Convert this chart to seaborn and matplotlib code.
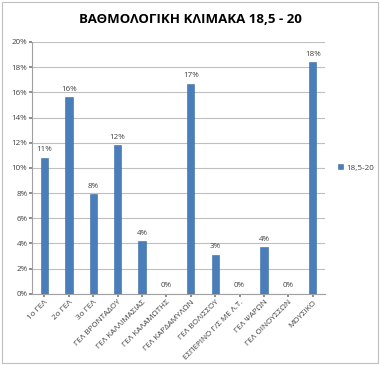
import matplotlib
matplotlib.use("Agg")
import matplotlib.pyplot as plt
import seaborn as sns
import pandas as pd
from matplotlib.patches import Rectangle

schools = ["1ο ΓΕΛ", "2ο ΓΕΛ", "3ο ΓΕΛ", "ΓΕΛ ΒΡΟΝΤΑΔΟΥ", "ΓΕΛ ΚΑΛΛΙΜΑΣΙΑΣ",
           "ΓΕΛ ΚΑΛΑΜΩΤΗΣ", "ΓΕΛ ΚΑΡΔΑΜΥΛΩΝ", "ΓΕΛ ΒΟΛΙΣΣΟΥ", "ΕΣΠΕΡΙΝΟ Γ/Σ ΜΕ Λ.Τ.",
           "ΓΕΛ ΨΑΡΩΝ", "ΓΕΛ ΟΙΝΟΥΣΣΩΝ", "ΜΟΥΣΙΚΟ"]
values = [10.8, 15.6, 7.9, 11.8, 4.2, 0.0, 16.7, 3.1, 0.0, 3.7, 0.0, 18.4]
series_name = "18,5-20"
yticks = [0, 2, 4, 6, 8, 10, 12, 14, 16, 18, 20]

sns.set_theme(style="white")
plt.rcParams["font.family"] = ["Open Sans", "DejaVu Sans"]

df = pd.DataFrame({"school": schools, "value": values, "series": series_name})

fig = plt.figure(figsize=(3.8, 3.65), dpi=100)
ax = fig.add_axes([0.085, 0.195, 0.77, 0.69])

sns.barplot(data=df, x="school", y="value", hue="series", palette=["#4A7EBB"],
            saturation=1, width=0.3, edgecolor="#3A6AA3", linewidth=0.4,
            ax=ax, zorder=3)

ax.set_ylim(0, 20)
ax.set_yticks(yticks)
ax.set_yticklabels([f"{t}%" for t in yticks], fontsize=5.8, color="#404040")
ax.yaxis.grid(True, color="#BFBFBF", linewidth=0.8, zorder=0)
ax.set_xlabel("")
ax.set_ylabel("")
ax.set_xticks(range(len(schools)))
ax.set_xticklabels(schools, rotation=45, ha="right", rotation_mode="anchor",
                   fontsize=5.8, color="#404040")
ax.tick_params(axis="both", length=2, pad=1.5, colors="#808080", labelcolor="#404040")
ax.tick_params(axis="x", bottom=True)
ax.tick_params(axis="y", left=True)
for s in ["top", "right"]:
    ax.spines[s].set_visible(False)
for s in ["left", "bottom"]:
    ax.spines[s].set_color("#A0A0A0")
    ax.spines[s].set_linewidth(0.8)

for i, v in enumerate(values):
    ax.text(i, v + 0.35, f"{round(v):d}%", ha="center", va="bottom",
            fontsize=5.8, color="#404040")

leg = ax.legend(loc="center left", bbox_to_anchor=(1.02, 0.5), frameon=False,
                fontsize=5.8, handlelength=0.6, handleheight=0.6, handletextpad=0.4)
for t in leg.get_texts():
    t.set_color("#404040")

fig.suptitle("ΒΑΘΜΟΛΟΓΙΚΗ ΚΛΙΜΑΚΑ 18,5 - 20", x=0.5, y=0.965, fontsize=9.5,
             fontweight="bold", color="#000000")

fig.patches.append(Rectangle((0.005, 0.005), 0.99, 0.99, transform=fig.transFigure,
                             fill=False, edgecolor="#BFBFBF", linewidth=0.8))

fig.savefig("out.png", dpi=100)
